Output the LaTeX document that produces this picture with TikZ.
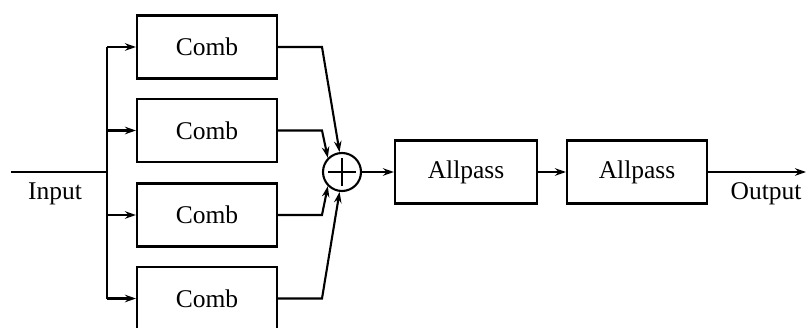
\documentclass[tikz,border=0pt]{standalone}
\usepackage{fontspec}
\setmainfont{Liberation Serif}
\usetikzlibrary{arrows.meta,calc}
\begin{document}
\begin{tikzpicture}[x=1pt,y=1pt,
  line width=2.1pt,
  blk/.style={draw,rectangle,minimum height=63pt,inner sep=0pt,font=\fontsize{25.5}{28}\selectfont},
  lbl/.style={inner sep=0pt,font=\fontsize{25.5}{28}\selectfont},
  arr/.style={-{Stealth[length=11pt,width=7.5pt]}}]
\useasboundingbox (0,0) rectangle (808,327);
\clip (0,0) rectangle (808,327);
\node[blk,minimum width=140pt] (c1) at (207,280) {Comb};
\node[blk,minimum width=140pt] (c2) at (207,196.5) {Comb};
\node[blk,minimum width=140pt] (c3) at (207,112) {Comb};
\node[blk,minimum width=140pt] (c4) at (207,28.5) {Comb};
\node[draw,circle,minimum size=38pt,inner sep=0pt] (sum) at (342,155) {};
\draw ($(sum.center)+(0,14)$) -- ($(sum.center)+(0,-14)$);
\draw ($(sum.center)+(-14,0)$) -- ($(sum.center)+(14,0)$);
\node[blk,minimum width=142pt] (a1) at (466,155) {Allpass};
\node[blk,minimum width=140pt] (a2) at (637,155) {Allpass};
\coordinate (in) at (11,155);
\coordinate (bus) at (107,155);
\coordinate (out) at (806,155);
\node[lbl] at (55,133) {Input};
\node[lbl] at (766,133) {Output};
\draw (in) -- (bus);
\draw (bus |- c1.west) -- (bus |- c4.west);
\foreach \c in {c1,c2,c3,c4}{
  \draw[arr] (bus |- \c.west) -- (\c.west);
}
\draw[arr] (c1.east) -- (322,280) -- (sum.97);
\draw[arr] (c2.east) -- (322,196.5) -- (sum.135);
\draw[arr] (c3.east) -- (322,112) -- (sum.225);
\draw[arr] (c4.east) -- (322,28.5) -- (sum.263);
\draw[arr] (sum.east) -- (a1.west);
\draw[arr] (a1.east) -- (a2.west);
\draw[arr] (a2.east) -- (out);
\end{tikzpicture}
\end{document}
